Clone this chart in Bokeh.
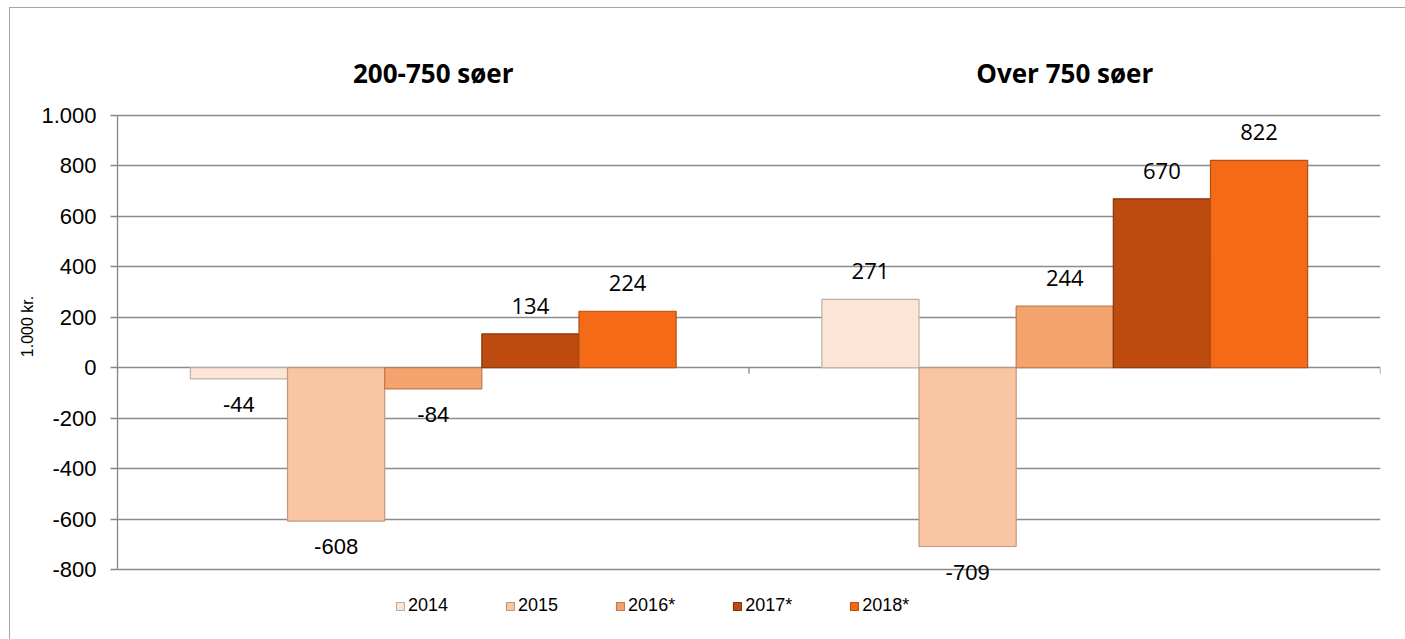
from bokeh.plotting import figure
from bokeh.models import (FactorRange, Range1d, LinearAxis, FixedTicker,
                          CustomJSTickFormatter, Legend, LegendItem, ColumnDataSource)
from bokeh.embed import file_html
from bokeh.resources import INLINE
from bokeh.core.properties import value

# ---------------- data ----------------
groups = ["200-750 søer", "Over 750 søer"]
years = ["2014", "2015", "2016*", "2017*", "2018*"]
values_200_750 = [-44, -608, -84, 134, 224]
values_over_750 = [271, -709, 244, 670, 822]
colors = ["#FCE4D6", "#FAC5A2", "#F4A36C", "#BD4B10", "#F46A16"]
edge_colors = ["#BFB0A6", "#C4967A", "#BE7A4E", "#86360C", "#B45014"]
y_ticks = [-800, -600, -400, -200, 0, 200, 400, 600, 800, 1000]
y_label = "1.000 kr."

series = [values_200_750, values_over_750]

# ---------------- figure ----------------
GROUP_PAD = 1.5
RANGE_PAD = GROUP_PAD / 2
x_range = FactorRange(*[(g, y) for g in groups for y in years],
                      factor_padding=0, group_padding=GROUP_PAD,
                      range_padding=RANGE_PAD, range_padding_units="absolute")

# frame extends above 1.000 and below -800 so titles, labels and legend fit inside
Y_LOW, Y_HIGH = -1046, 1373

p = figure(x_range=x_range, y_range=Range1d(Y_LOW, Y_HIGH),
           width=1405, height=639, output_backend="svg", toolbar_location=None,
           x_axis_location=None, y_axis_location=None,
           min_border_left=117, min_border_right=25,
           min_border_top=21, min_border_bottom=8)
p.outline_line_color = None
p.background_fill_color = "white"
p.border_fill_color = None
p.styles = {"background": "linear-gradient(#a6a6a6,#a6a6a6) 9px 7px / 1px 100% no-repeat, "
                          "linear-gradient(#a6a6a6,#a6a6a6) 9px 7px / 100% 1px no-repeat, white"}

# y axis
yaxis = LinearAxis(ticker=FixedTicker(ticks=y_ticks), bounds=(y_ticks[0], y_ticks[-1]))
yaxis.formatter = CustomJSTickFormatter(code="""
const a = Math.abs(tick);
let s;
if (a >= 1000) { s = Math.floor(a/1000) + '.' + String(a % 1000).padStart(3, '0'); }
else { s = String(a); }
return (tick < 0 ? '-' : '') + s;
""")
yaxis.axis_label = y_label
yaxis.axis_label_text_font = "Liberation Sans"
yaxis.axis_label_text_font_size = "16px"
yaxis.axis_label_text_font_style = "normal"
yaxis.axis_label_text_color = "#000000"
yaxis.axis_label_standoff = 2
yaxis.major_label_text_font = "Liberation Sans"
yaxis.major_label_text_font_size = "22px"
yaxis.major_label_text_color = "#000000"
yaxis.major_label_standoff = 14
yaxis.axis_line_color = "#868686"
yaxis.axis_line_width = 1.3
yaxis.major_tick_line_color = "#868686"
yaxis.major_tick_line_width = 1.3
yaxis.major_tick_out = 7
yaxis.major_tick_in = 0
yaxis.minor_tick_line_color = None
p.add_layout(yaxis, "left")

# grid
p.ygrid.ticker = FixedTicker(ticks=y_ticks)
p.ygrid.grid_line_color = "#8C8C8C"
p.ygrid.grid_line_width = 1.3
p.xgrid.grid_line_color = None

# category boundary ticks on the zero line (synthetic factor coordinates)
n = len(years)
bounds = [k * (n + GROUP_PAD) - GROUP_PAD / 2 for k in range(len(groups) + 1)]
p.segment(x0=bounds, x1=bounds, y0=[0] * len(bounds), y1=[-24] * len(bounds),
          line_color="#868686", line_width=1.3)

# group titles above the plot area (centred on each group)
p.text(x=groups, y=[y_ticks[-1]] * len(groups), text=groups,
       text_align="center", text_baseline="middle", y_offset=-43,
       text_font=value("Open Sans"), text_font_style="bold",
       text_font_size="26px", text_color="#000000")

# bars
items = []
for i, yr in enumerate(years):
    src = ColumnDataSource(dict(x=[(g, yr) for g in groups],
                                top=[s[i] for s in series]))
    r = p.vbar(x="x", top="top", bottom=0, width=1, source=src,
               fill_color=colors[i], line_color=edge_colors[i], line_width=1.2)
    items.append(LegendItem(label=yr, renderers=[r]))

# data labels
pos = dict(x=[], top=[], txt=[])
neg = dict(x=[], top=[], txt=[])
for gi, g in enumerate(groups):
    for i, yr in enumerate(years):
        v = series[gi][i]
        d = pos if v >= 0 else neg
        d["x"].append((g, yr))
        d["top"].append(v)
        d["txt"].append(str(v))

p.text(x="x", y="top", text="txt", source=ColumnDataSource(pos),
       text_align="center", text_baseline="bottom", y_offset=-20,
       text_font=value("Open Sans"), text_font_size="22px", text_color="#000000")
p.text(x="x", y="top", text="txt", source=ColumnDataSource(neg),
       text_align="center", text_baseline="top", y_offset=18,
       text_font=value("Liberation Sans"), text_font_size="22px", text_color="#000000")

legend = Legend(items=items, orientation="horizontal", location=(278, 15),
                glyph_width=10, glyph_height=10, label_standoff=3, spacing=57,
                label_text_font="Liberation Sans", label_text_font_size="18px",
                label_text_color="#000000", border_line_color=None,
                background_fill_alpha=0, padding=0, margin=0)
p.add_layout(legend, "center")

open("out.html", "w").write(file_html(p, INLINE))
